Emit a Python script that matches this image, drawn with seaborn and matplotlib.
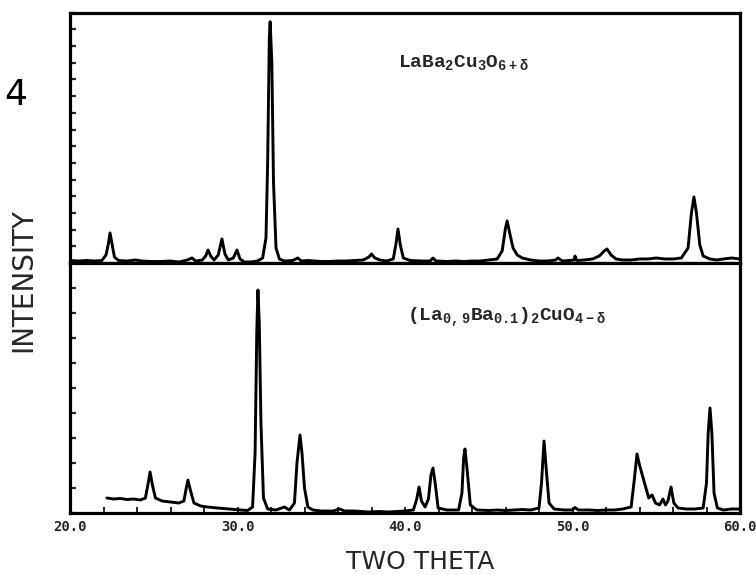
import numpy as np
import pandas as pd
import matplotlib
matplotlib.use("Agg")
import matplotlib.pyplot as plt
import seaborn as sns

# ---- data (2-theta, intensity in arbitrary units) ----
top_tt = [20.0, 20.5, 21.0, 21.5, 21.9, 22.15, 22.3, 22.39, 22.5, 22.65, 22.9, 23.4, 23.9, 24.3,
          24.8, 25.5, 26.0, 26.5, 27.0, 27.28, 27.5, 27.9, 28.1, 28.24, 28.4, 28.6, 28.85, 29.07,
          29.25, 29.45, 29.75, 29.97, 30.15, 30.4, 30.8, 31.2, 31.5, 31.7, 31.8, 31.9, 31.95, 32.05,
          32.15, 32.3, 32.5, 32.8, 33.3, 33.6, 33.8, 34.2, 34.6, 35.0, 35.5, 36.0, 36.5, 37.0, 37.5,
          37.85, 38.0, 38.2, 38.5, 38.9, 39.3, 39.45, 39.58, 39.72, 39.9, 40.3, 41.0, 41.5, 41.67,
          41.85, 42.5, 43.0, 43.5, 44.0, 44.5, 45.0, 45.5, 45.8, 46.0, 46.1, 46.25, 46.45, 46.7, 47.0,
          47.5, 48.0, 48.5, 49.0, 49.13, 49.4, 49.8, 50.1, 50.15, 50.25, 50.7, 51.2, 51.6, 51.9, 52.06,
          52.3, 52.6, 53.0, 53.5, 54.0, 54.5, 55.0, 55.5, 56.0, 56.5, 56.9, 57.1, 57.25, 57.4, 57.6,
          57.8, 58.2, 58.6, 59.0, 59.5, 60.0]
top_int = [2.5, 2, 2.5, 2, 2.5, 8, 20, 30, 20, 6, 2.5, 2, 3, 2,
           1.5, 1.5, 2, 1, 3, 5, 2, 3, 7, 13, 7, 3, 8, 24,
           9, 3, 5, 13, 4, 1, 1, 2, 5, 25, 100, 225, 241, 200,
           80, 15, 4, 2, 2.5, 5, 2, 2.5, 2, 1.5, 1.5, 2, 2, 2.5, 3,
           6, 9, 5, 3, 2, 4, 18, 34, 18, 5, 2.5, 2, 2, 5,
           2, 1.5, 2, 1.5, 2, 2, 3, 4, 12, 35, 42, 30, 15, 8, 5,
           3, 2, 2, 3, 5, 2, 2.5, 3, 7, 2.5, 3, 4, 7, 12, 14,
           8, 4, 3, 3, 4, 4, 5, 4, 4, 5, 15, 50, 66, 50, 18,
           7, 4, 3, 4, 5, 4]

bot_tt = [22.2, 22.6, 23.0, 23.4, 23.8, 24.2, 24.5, 24.65, 24.78, 24.92, 25.1, 25.5, 26.0, 26.5,
          26.8, 26.93, 27.04, 27.2, 27.4, 27.8, 28.2, 28.8, 29.5, 30.2, 30.6, 30.9, 31.05, 31.15,
          31.22, 31.3, 31.4, 31.55, 31.8, 32.3, 32.8, 33.1, 33.4, 33.55, 33.73, 33.85, 34.0, 34.2,
          34.5, 35.0, 35.7, 36.1, 36.4, 37.0, 37.8, 38.5, 39.0, 39.5, 40.0, 40.5, 40.7, 40.84, 40.98,
          41.2, 41.4, 41.55, 41.67, 41.8, 41.98, 42.5, 43.2, 43.4, 43.5, 43.58, 43.7, 43.9, 44.3,
          45.0, 45.5, 46.0, 46.5, 47.0, 47.5, 48.0, 48.15, 48.3, 48.45, 48.6, 48.9, 49.5, 50.0,
          50.15, 50.35, 51.0, 51.5, 52.0, 52.5, 53.0, 53.5, 53.7, 53.85, 54.0, 54.3, 54.55, 54.75,
          54.95, 55.2, 55.4, 55.55, 55.7, 55.88, 56.05, 56.3, 56.8, 57.3, 57.8, 58.0, 58.1, 58.21,
          58.32, 58.45, 58.65, 59.0, 59.5, 60.0]
bot_int = [15, 14, 14.5, 13.5, 14, 13, 15, 28, 41, 28, 15, 12, 11, 10,
           12, 24, 33, 22, 10, 7, 6, 5, 4, 3, 2.5, 6, 60, 180,
           223, 190, 90, 15, 4, 3, 6, 3, 10, 50, 78, 60, 25, 6,
           3, 2, 2, 4, 2, 2, 1, 1.5, 1, 1.5, 2, 3, 14, 26, 12,
           6, 14, 38, 45, 30, 5, 3, 3, 20, 55, 64, 45, 8, 3,
           2.5, 3, 2.5, 3, 3.5, 3, 5, 30, 72, 40, 10, 4, 3, 3,
           5.5, 3, 3, 2.5, 3, 3, 4, 6, 35, 59, 48, 30, 15, 18,
           10, 8, 14, 8, 12, 26, 10, 5, 4, 4, 5, 30, 80, 105,
           80, 20, 5, 3, 4, 4]

top_label = r"LaBa$_2$Cu$_3$O$_{6+δ}$"
bot_label = r"(La$_{0,9}$Ba$_{0.1}$)$_2$CuO$_{4-δ}$"
x_ticks = [20.0, 30.0, 40.0, 50.0, 60.0]
x_label = "TWO THETA"
y_label = "INTENSITY"
panel_note = "4"

# ---- figure ----
sns.set_style("white")
plt.rcParams["font.family"] = ["DejaVu Sans"]
plt.rcParams["mathtext.default"] = "regular"

W, H = 756, 575
fig = plt.figure(figsize=(W / 100, H / 100), dpi=100)
left, right = 70 / W, 740 / W
ax_top = fig.add_axes([left, 1 - 263 / H, right - left, 250.3 / H])
ax_bot = fig.add_axes([left, 1 - 513 / H, right - left, 250 / H], sharex=ax_top)

lw_line = 2.1
lw_spine = 2.3

df_top = pd.DataFrame({"tt": top_tt, "I": top_int})
df_bot = pd.DataFrame({"tt": bot_tt, "I": bot_int})
sns.lineplot(data=df_top, x="tt", y="I", ax=ax_top, color="black", lw=lw_line, sort=False)
sns.lineplot(data=df_bot, x="tt", y="I", ax=ax_bot, color="black", lw=lw_line, sort=False)

for ax in (ax_top, ax_bot):
    ax.set_xlim(20, 60)
    for s in ax.spines.values():
        s.set_linewidth(lw_spine)
        s.set_color("black")
    ax.set_xlabel("")
    ax.set_ylabel("")

ax_top.set_ylim(0, 250)
ax_bot.set_ylim(0, 250)
ax_top.set_yticks(np.arange(0, 251, 250 / 15))
ax_bot.set_yticks(np.arange(0, 251, 25))
for ax in (ax_top, ax_bot):
    ax.tick_params(axis="y", direction="in", length=4, width=1.6, left=True, labelleft=False)

ax_top.tick_params(axis="x", bottom=False, labelbottom=False)
ax_bot.set_xticks(np.arange(20, 61, 2), minor=True)
ax_bot.set_xticks(x_ticks)
ax_bot.set_xticklabels([f"{t:.1f}" for t in x_ticks], family="DejaVu Sans Mono",
                       fontweight="bold", fontsize=10)
ax_bot.tick_params(axis="x", which="both", direction="in", length=4, width=1.4,
                   bottom=True, pad=5)

lab_kw = dict(family="Liberation Mono", fontsize=14, fontweight="bold",
              ha="left", va="center")
fig.text(398 / W, 1 - 62 / H, top_label, **lab_kw)
fig.text(407 / W, 1 - 317 / H, bot_label, **lab_kw)

fig.text(420 / W, 1 - 562 / H, x_label, ha="center", va="center", fontsize=18)
fig.text(23 / W, 1 - 280 / H, y_label, ha="center", va="center", rotation=90, fontsize=20)
fig.text(16 / W, 1 - 95 / H, panel_note, ha="center", va="center", fontsize=26,
         color="black")

fig.savefig("out.png", dpi=100)
